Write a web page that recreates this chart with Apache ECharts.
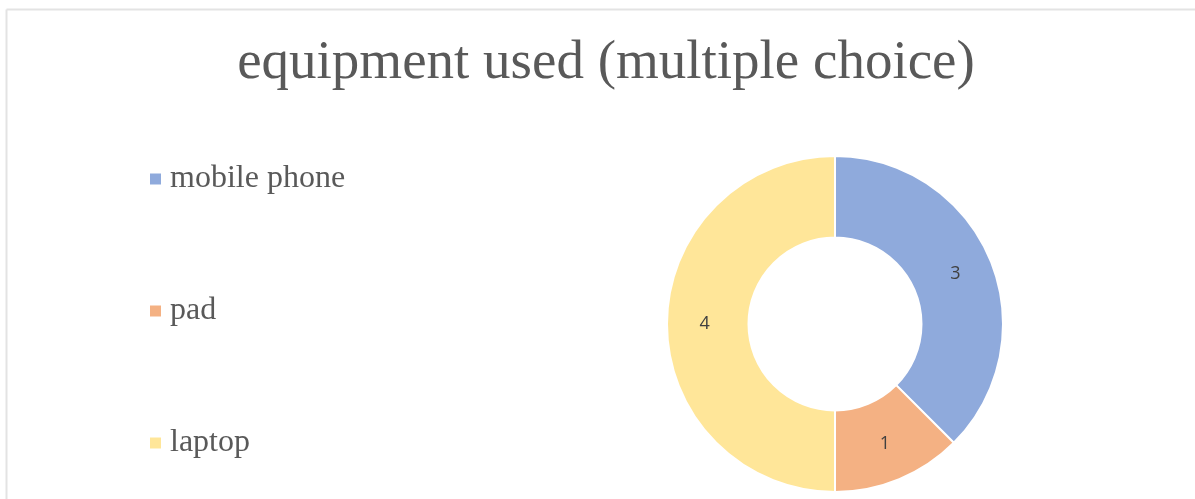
<!DOCTYPE html>
<html>
<head>
<meta charset="utf-8">
<title>equipment used</title>
<script src="https://cdn.jsdelivr.net/npm/echarts@6/dist/echarts.min.js"></script>
<style>
  html, body { margin: 0; padding: 0; background: #fff; }
  #main { width: 1195px; height: 499px; }
</style>
</head>
<body>
<div id="main"></div>
<script>
// donnees du graphique
const categories = ['mobile phone', 'pad', 'laptop'];
const counts = [3, 1, 4];
const colors = ['#8FAADC', '#F4B183', '#FFE699'];

const chart = echarts.init(document.getElementById('main'), null, { renderer: 'canvas' });

const option = {
  backgroundColor: '#fff',
  animation: false,
  title: {
    text: 'equipment used (multiple choice)',
    left: 601,
    textAlign: 'center',
    top: 31,
    textStyle: {
      fontFamily: 'Liberation Serif',
      fontSize: 55,
      fontWeight: 'normal',
      color: '#595959'
    }
  },
  legend: {
    orient: 'vertical',
    left: 148,
    top: 163,
    padding: 0,
    itemWidth: 13,
    itemHeight: 13,
    itemGap: 100,
    icon: 'rect',
    data: categories,
    textStyle: {
      fontFamily: 'Liberation Serif',
      fontSize: 32,
      color: '#595959',
      padding: [0, 0, 0, 3]
    }
  },
  // cadre gris clair
  graphic: [
    { type: 'line', shape: { x1: 6.5, y1: 9.5, x2: 6.5, y2: 499 }, style: { stroke: '#e3e3e3', lineWidth: 2 } },
    { type: 'line', shape: { x1: 6.5, y1: 9.5, x2: 1195, y2: 9.5 }, style: { stroke: '#e3e3e3', lineWidth: 2 } }
  ],
  series: [
    {
      name: 'equipment',
      type: 'pie',
      center: [835, 324],
      radius: [86.5, 168],
      startAngle: 90,
      clockwise: true,
      avoidLabelOverlap: false,
      itemStyle: { borderColor: '#fff', borderWidth: 2 },
      label: {
        show: true,
        position: 'inside',
        formatter: '{c}',
        fontFamily: 'Open Sans',
        fontSize: 18,
        color: '#404040'
      },
      labelLine: { show: false },
      data: categories.map((name, i) => ({
        name: name,
        value: counts[i],
        itemStyle: { color: colors[i] }
      }))
    }
  ]
};

chart.setOption(option);
</script>
</body>
</html>
